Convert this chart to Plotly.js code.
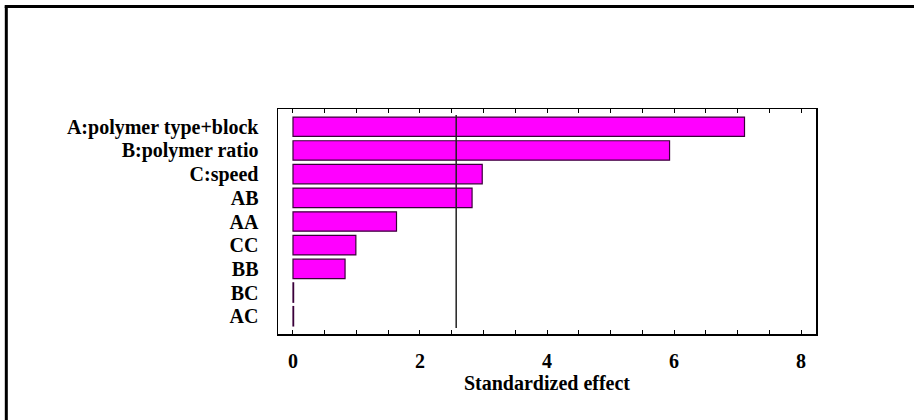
<!DOCTYPE html>
<html>
<head>
<meta charset="utf-8">
<script src="https://cdn.plot.ly/plotly-3.0.1.min.js"></script>
<style>
  html, body { margin: 0; padding: 0; background: #fff; }
  #chart { width: 914px; height: 420px; }
</style>
</head>
<body>
<div id="chart"></div>
<script>
// Data (Standardized Pareto chart)
const categories = ["A:polymer type+block", "B:polymer ratio", "C:speed", "AB", "AA", "CC", "BB", "BC", "AC"];
const effects = [7.11, 5.93, 2.98, 2.82, 1.63, 0.99, 0.82, 0.01, 0.01];
const criticalValue = 2.57;
const xTickVals = [0, 0.5, 1, 1.5, 2, 2.5, 3, 3.5, 4, 4.5, 5, 5.5, 6, 6.5, 7, 7.5, 8];
const xTickText = ["0", "", "", "", "2", "", "", "", "4", "", "", "", "6", "", "", "", "8"];
const xTitle = "Standardized effect";

const fontFam = "'Liberation Serif', 'Times New Roman', serif";

const trace = {
  type: "bar",
  orientation: "h",
  x: effects,
  y: categories,
  width: 0.82,
  marker: { color: "#ff00ff", line: { color: "#3a003a", width: 1.2 } },
  hoverinfo: "skip"
};

const layout = {
  width: 914,
  height: 420,
  margin: { l: 277.7, r: 98.3, t: 109.3, b: 86 },
  paper_bgcolor: "#ffffff",
  plot_bgcolor: "#ffffff",
  showlegend: false,
  font: { family: fontFam, size: 20, color: "#000", weight: 700 },
  xaxis: {
    range: [-0.236, 8.236],
    tickmode: "array",
    tickvals: xTickVals,
    ticktext: xTickText,
    ticks: "inside",
    ticklen: 4,
    tickwidth: 1,
    tickcolor: "#000",
    showline: true,
    linecolor: "#000",
    linewidth: 1.5,
    mirror: "ticks",
    showgrid: false,
    zeroline: false,
    ticklabelstandoff: 8,
    tickfont: { family: fontFam, size: 20, color: "#000", weight: 700 },
    title: { text: xTitle, font: { family: fontFam, size: 20, color: "#000", weight: 700 }, standoff: 4 }
  },
  yaxis: {
    type: "category",
    categoryorder: "array",
    categoryarray: categories,
    tickmode: "array",
    tickvals: categories,
    ticktext: categories,
    range: [8.75, -0.75],
    ticks: "",
    showline: true,
    linecolor: "#000",
    linewidth: 1.5,
    mirror: true,
    showgrid: false,
    zeroline: false,
    ticklabelstandoff: 14,
    tickfont: { family: fontFam, size: 20, color: "#000", weight: 700 }
  },
  shapes: [
    { type: "line", xref: "x", yref: "y", x0: criticalValue, x1: criticalValue, y0: -0.5, y1: 8.5,
      line: { color: "#222", width: 1.5 } },
    { type: "line", xref: "paper", yref: "paper", x0: -0.505, x1: -0.505, y0: 1.4553, y1: -0.45,
      line: { color: "#000", width: 3 } },
    { type: "line", xref: "paper", yref: "paper", x0: -0.508, x1: 1.2, y0: 1.4553, y1: 1.4553,
      line: { color: "#000", width: 3 } }
  ]
};

Plotly.newPlot("chart", [trace], layout, { staticPlot: true, displayModeBar: false });
</script>
</body>
</html>
